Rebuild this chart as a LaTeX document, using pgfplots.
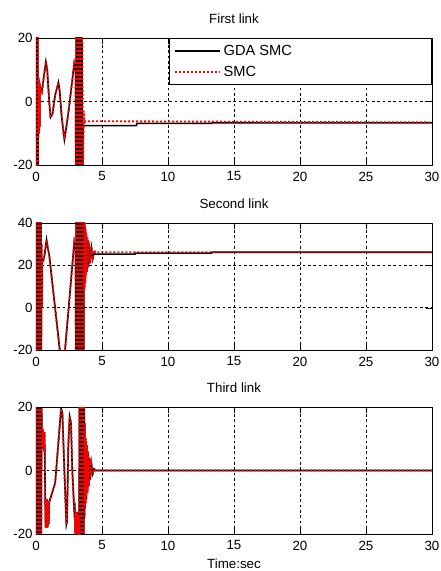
\documentclass[border=0pt]{standalone}
\usepackage{fontspec}
\setmainfont{Liberation Sans}
\usepackage{pgfplots}
\pgfplotsset{compat=1.18}

% 1 px of the reference = 0.75pt
\pgfplotsset{
  linkax/.style={
    scale only axis,
    width=297pt, height=95.25pt,
    xmin=0, xmax=30,
    xtick={0,5,10,15,20,25,30},
    grid=major,
    grid style={black, line width=0.4pt, dash pattern=on 2pt off 2pt},
    tick align=inside,
    axis line style={black, line width=0.6pt},
    tick style={black},
    font=\fontsize{10}{12}\selectfont,
    ticklabel style={font=\fontsize{10}{12}\selectfont},
    yticklabel style={xshift=1pt},
    xticklabel style={yshift=-1.5pt},
    /pgf/number format/assume math mode=true,
    title style={font=\fontsize{10}{12}\selectfont, yshift=1.5pt},
  },
  gda/.style={black, line width=1.2pt, mark=none},
  smc/.style={red, line width=1.4pt, dash pattern=on 1.5pt off 1.5pt, mark=none},
}

\begin{document}
\begin{tikzpicture}

% ---------- first link ----------
\begin{axis}[linkax, at={(0,0)}, title={First link},
  ymin=-20, ymax=20, ytick={-20,0,20},
  legend style={at={(1,1)}, anchor=north east, draw=black, fill=white,
    line width=0.6pt, inner xsep=3pt, inner ysep=3pt, row sep=2.5pt,
    font=\fontsize{11}{12.5}\selectfont},
  legend cell align=left,
  legend image code/.code={\draw[mark repeat=2,mark phase=2,#1] plot coordinates {(2.5pt,0pt) (19.5pt,0pt) (36.5pt,0pt)};},
]
\addplot[gda] coordinates {
(0,-20.315)(0.02,20.315)(0.04,-20)(0.06,20.315)(0.08,-20)(0.1,20.315)(0.12,-20)(0.14,20.315)(0.16,-20)
(0.18,5)(0.2,-10)(0.22,5)(0.24,-10)(0.26,5)(0.28,-8)(0.3,5)(0.35,4)(0.45,3)(0.6,8)(0.75,12.5)
(0.85,10)(1.0,0)(1.1,-5)(1.25,-4)(1.45,2)(1.7,6)(1.8,3)(1.95,-5)(2.15,-12)(2.3,-8)(2.5,-2)
(2.7,5)(2.9,12)(3.0,10)
(3.02,-20.083)(3.04,20.315)(3.06,-20)(3.08,20.315)(3.1,-20)(3.12,20.315)(3.14,-20)(3.16,20.315)
(3.18,-20)(3.2,20.315)(3.22,-20)(3.24,20.315)(3.26,-20)(3.28,20.315)(3.3,-20)(3.32,20.315)
(3.34,-20)(3.36,20.315)(3.38,-20)(3.4,20.315)(3.42,-20)(3.44,20.315)(3.46,-20)(3.48,20.315)(3.5,-20)
(3.55,-20)(3.56,-7.6)(7.6,-7.6)(7.65,-6.9)(13.3,-6.9)(13.35,-6.7)(30,-6.7)
};
\addlegendentry{\makebox[151pt][l]{GDA SMC}}
\addplot[smc] coordinates {
(0,-20.315)(0.02,20.315)(0.04,-20)(0.06,20.315)(0.08,-20)(0.1,20.315)(0.12,-20)(0.14,20.315)(0.16,-20)
(0.18,5)(0.2,-10)(0.22,5)(0.24,-10)(0.26,5)(0.28,-8)(0.3,5)(0.35,4)(0.45,3)(0.6,8)(0.75,12.5)
(0.85,10)(1.0,0)(1.1,-5)(1.25,-4)(1.45,2)(1.7,6)(1.8,3)(1.95,-5)(2.15,-12)(2.3,-8)(2.5,-2)
(2.7,5)(2.9,12)(3.0,10)
(3.02,-20.083)(3.04,20.315)(3.06,-20)(3.08,20.315)(3.1,-20)(3.12,20.315)(3.14,-20)(3.16,20.315)
(3.18,-20)(3.2,20.315)(3.22,-20)(3.24,20.315)(3.26,-20)(3.28,20.315)(3.3,-20)(3.32,20.315)
(3.34,-20)(3.36,20.315)(3.38,-20)(3.4,20.315)(3.42,-20)(3.44,20.315)(3.46,-20)(3.48,20.315)(3.5,-20)
(3.52,20.315)(3.54,-20)(3.58,-20)(3.62,-3)(3.67,-7)(3.72,-6.2)(30,-6.6)
};
\addlegendentry{SMC}
\end{axis}

% ---------- second link ----------
\begin{axis}[linkax, at={(0,-138.75pt)}, title={Second link},
  ymin=-20, ymax=40, ytick={-20,0,20,40}]
\addplot[gda] coordinates {
(0,-20.4724)(0.025,40.4724)(0.05,-20)(0.075,40.4724)(0.1,-20)(0.125,40.4724)(0.15,-20)
(0.175,40.4724)(0.2,-20)(0.225,40.4724)(0.25,-20)(0.275,40.4724)(0.3,-20)(0.325,40.4724)
(0.35,-20)(0.375,40.4724)(0.4,-20)
(0.425,30)(0.45,0)(0.47,22)(0.55,22)(0.65,25)(0.8,32)(0.9,28)(1.0,25)(1.8,-20)(2.0,-28)
(2.2,-20)(2.9,31)(3.0,28)
(3.02,-20)(3.04,40.4724)(3.06,-20)(3.08,40.4724)(3.1,-20)(3.12,40.4724)(3.14,-20)(3.16,40.4724)
(3.18,-20)(3.2,40.4724)(3.22,-20)(3.24,40.4724)(3.26,-20)(3.28,40.4724)(3.3,-20)(3.32,40.4724)
(3.34,-20)(3.36,40.4724)(3.38,-20)(3.4,40.4724)(3.42,-20)(3.44,40.4724)(3.46,-20)(3.48,40.4724)
(3.5,-20)(3.52,40.4724)(3.54,-20)(3.56,40.4724)(3.58,-20)(3.6,40.4724)(3.62,-20)
(3.64,40.4724)(3.66,10)(3.68,40)(3.7,12)(3.72,38)(3.74,14)(3.76,36)(3.78,16)(3.82,34)(3.87,17)
(3.92,32)(3.97,19)(4.02,30)(4.1,21)(4.2,28)(4.3,23)(4.4,26)(4.5,25.3)
(7.5,25.3)(7.55,25.8)(13.3,25.8)(13.35,26.2)(30,26.2)
};
\addplot[smc] coordinates {
(0,-20.4724)(0.025,40.4724)(0.05,-20)(0.075,40.4724)(0.1,-20)(0.125,40.4724)(0.15,-20)
(0.175,40.4724)(0.2,-20)(0.225,40.4724)(0.25,-20)(0.275,40.4724)(0.3,-20)(0.325,40.4724)
(0.35,-20)(0.375,40.4724)(0.4,-20)
(0.425,30)(0.45,0)(0.47,22)(0.55,22)(0.65,25)(0.8,32)(0.9,28)(1.0,25)(1.8,-20)(2.0,-28)
(2.2,-20)(2.9,31)(3.0,28)
(3.02,-20)(3.04,40.4724)(3.06,-20)(3.08,40.4724)(3.1,-20)(3.12,40.4724)(3.14,-20)(3.16,40.4724)
(3.18,-20)(3.2,40.4724)(3.22,-20)(3.24,40.4724)(3.26,-20)(3.28,40.4724)(3.3,-20)(3.32,40.4724)
(3.34,-20)(3.36,40.4724)(3.38,-20)(3.4,40.4724)(3.42,-20)(3.44,40.4724)(3.46,-20)(3.48,40.4724)
(3.5,-20)(3.52,40.4724)(3.54,-20)(3.56,40.4724)(3.58,-20)(3.6,40.4724)(3.62,-20)
(3.64,40.4724)(3.66,8)(3.68,40)(3.7,10)(3.72,39)(3.74,12)(3.76,37)(3.78,15)(3.82,35)(3.87,17)
(3.92,33)(3.97,19)(4.02,31)(4.1,21)(4.2,29)(4.3,24)(4.4,27)(4.5,26.2)(30,26.2)
};
\end{axis}

% ---------- third link ----------
\begin{axis}[linkax, at={(0,-276.75pt)}, title={Third link},
  ymin=-20, ymax=20, ytick={-20,0,20},
  xlabel={Time:sec}, xlabel style={yshift=0pt}]
\addplot[gda] coordinates {
(0,-20.315)(0.025,20.315)(0.05,-20)(0.075,20.315)(0.1,-20)(0.125,20.315)(0.15,-20)(0.175,20.315)
(0.2,-20)(0.225,20.315)(0.25,-20)(0.275,20.315)(0.3,-20)(0.325,20.315)(0.35,-20)(0.375,20.315)
(0.4,-20)(0.425,20.315)
(0.45,12)(0.5,8)(0.52,13)(0.55,7)(0.58,12)(0.62,6)(0.65,12)(0.7,-10)(0.73,-18)(0.76,-9)
(0.8,-18)(0.84,-9)(0.88,-18)(0.92,-10)(0.96,-17)(1.0,-10)(1.45,-4)(1.9,19.5)(2.0,18)
(2.15,0)(2.3,-17)(2.35,-16)(2.45,8)(2.55,17)(2.65,15)(2.75,0)(2.9,-13)(2.95,-12)(2.98,-20)
(3.0,-13)(3.03,-20)(3.06,-13)(3.09,-20)(3.12,-13)(3.15,-20)(3.18,-14)(3.21,-20)(3.24,-14)
(3.27,-20.287)(3.29,20.315)(3.31,-20)(3.33,20.315)(3.35,-20)(3.37,20.315)(3.39,-20)(3.41,20.315)
(3.43,-20)(3.45,20.315)(3.47,-20)(3.49,20.315)(3.51,-20)(3.53,20.315)(3.55,-20)(3.57,20.315)
(3.59,-20)(3.61,20.315)(3.63,-20)(3.65,20.315)
(3.67,-15)(3.69,15)(3.71,-12)(3.73,10)(3.75,-10)(3.78,9)(3.81,-9)(3.85,8)(3.9,-7)
(3.95,6)(4.0,-5)(4.05,4)(4.1,-3)(4.2,2)(4.3,-1)(4.4,0.5)(4.5,0)(30,0)
};
\addplot[smc] coordinates {
(0,-20.315)(0.025,20.315)(0.05,-20)(0.075,20.315)(0.1,-20)(0.125,20.315)(0.15,-20)(0.175,20.315)
(0.2,-20)(0.225,20.315)(0.25,-20)(0.275,20.315)(0.3,-20)(0.325,20.315)(0.35,-20)(0.375,20.315)
(0.4,-20)(0.425,20.315)
(0.45,12)(0.5,8)(0.52,13)(0.55,7)(0.58,12)(0.62,6)(0.65,12)(0.7,-10)(0.73,-18)(0.76,-9)
(0.8,-18)(0.84,-9)(0.88,-18)(0.92,-10)(0.96,-17)(1.0,-10)(1.45,-4)(1.9,19.5)(2.0,18)
(2.15,0)(2.3,-17)(2.35,-16)(2.45,8)(2.55,17)(2.65,15)(2.75,0)(2.9,-13)(2.95,-12)(2.98,-20)
(3.0,-13)(3.03,-20)(3.06,-13)(3.09,-20)(3.12,-13)(3.15,-20)(3.18,-14)(3.21,-20)(3.24,-14)
(3.27,-20.287)(3.29,20.315)(3.31,-20)(3.33,20.315)(3.35,-20)(3.37,20.315)(3.39,-20)(3.41,20.315)
(3.43,-20)(3.45,20.315)(3.47,-20)(3.49,20.315)(3.51,-20)(3.53,20.315)(3.55,-20)(3.57,20.315)
(3.59,-20)(3.61,20.315)(3.63,-20)(3.65,20.315)
(3.67,-15)(3.69,15)(3.71,-12)(3.73,11)(3.75,-11)(3.78,10)(3.81,-10)(3.85,8)(3.9,-7)
(3.95,6)(4.0,-5)(4.05,4)(4.1,-3)(4.2,2)(4.3,-1)(4.4,0.5)(4.5,0)(30,0)
};
\end{axis}

% picture frame of the reference (440 x 571 px)
\pgfresetboundingbox
\path[use as bounding box] (-27pt,-304.5pt) rectangle (303pt,123.75pt);
\end{tikzpicture}
\end{document}
